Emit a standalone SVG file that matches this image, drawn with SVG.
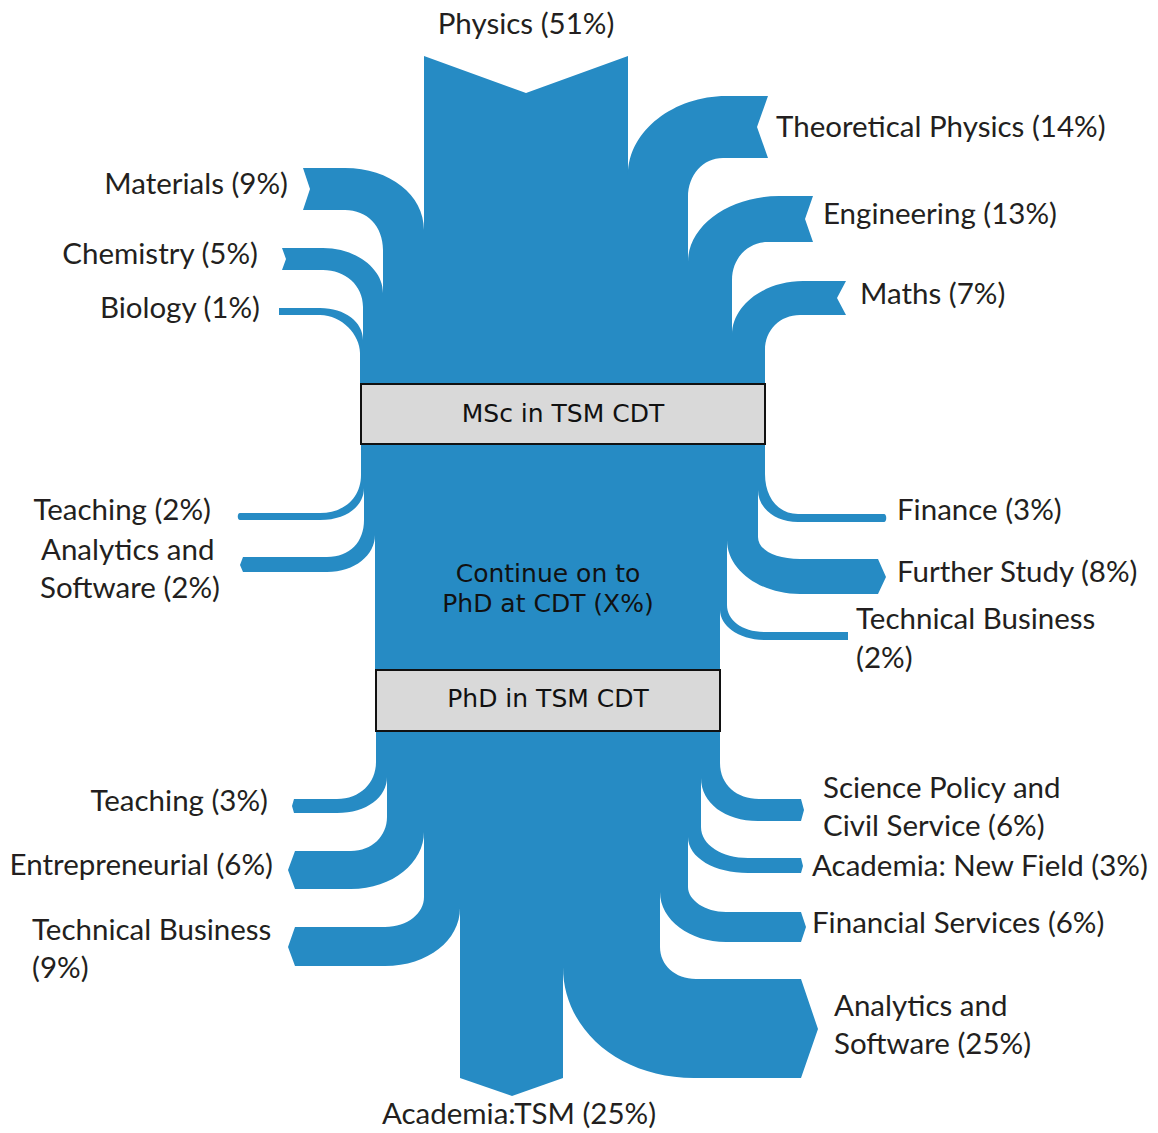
<svg xmlns="http://www.w3.org/2000/svg" width="1158" height="1133" viewBox="0 0 1158 1133">
<style>
.f{fill:#268bc4;stroke:none}
.lbl{font-family:Lato,"Open Sans","Liberation Sans",sans-serif;font-size:29.5px;fill:#231f20}
.box{fill:#d9d9d9;stroke:#111;stroke-width:2}
.bt{font-family:"DejaVu Sans",sans-serif;font-size:25px;fill:#111;text-anchor:middle}
</style>
<rect width="1158" height="1133" fill="#fff"/>
<g id="connectors">
<!-- top inputs -->
<path class="f" d="M424,56 L526,93 L628,56 L628,386 L424,386 Z"/>
<path class="f" d="M628,386 L628,175 C628,130 675,96 726,96 L768,96 L757,127 L768,158 L723,158 C703,158 688,175 688,197 L688,386 Z"/>
<path class="f" d="M688,386 L688,262 C688,225 730,196 779,196 L813,196 L805,219 L813,242 L768,242 C748,242 732,258 732,280 L732,386 Z"/>
<path class="f" d="M732,386 L732,335 C732,305 765,281 803,281 L846,281 L837,298 L846,315 L800,315 C780,315 765,330 765,350 L765,386 Z"/>
<path class="f" d="M424,386 L424,230 C424,195 390,168 345,168 L303,168 L310,189 L303,210 L345,210 C367,210 383,226 383,250 L383,386 Z"/>
<path class="f" d="M383,386 L383,293 C383,268 355,248 323,248 L282,248 L286,259 L282,270 L323,270 C345,270 363,285 363,307 L363,386 Z"/>
<path class="f" d="M363,386 L363,340 C363,322 345,308 320,308 L279,308 L279,315 L320,315 C342,315 360,335 360,353 L360,386 Z"/>
<!-- middle -->
<rect class="f" x="375" y="440" width="345" height="235"/>
<path class="f" d="M361,440 L361,475 C361,497 345,513 320,513 L240,513 C237,513 237,520 240,520 L320,520 C348,520 364,505 364,488 L364,440 Z"/>
<path class="f" d="M364,440 L364,520 C364,542 350,557 327,557 L243,557 L240,565 L243,572 L327,572 C355,572 375,555 375,535 L375,440 Z"/>
<path class="f" d="M765,440 L765,474 C765,497 778,514 798,514 L884,514 C887,514 887,522 884,522 L798,522 C775,522 758,508 758,490 L758,440 Z"/>
<path class="f" d="M758,440 L758,537 C758,550 775,559 800,559 L878,559 L886,577 L878,594 L800,594 C760,594 727,570 727,540 L727,440 Z"/>
<path class="f" d="M727,440 L727,605 C727,620 742,632 765,632 L848,632 L848,640 L765,640 C738,640 720,625 720,610 L720,440 Z"/>
<!-- bottom outputs -->
<path class="f" d="M376,728 L376,762 C376,783 360,799 337,799 L294,799 L292,806 L294,813 L337,813 C367,813 387,797 387,777 L387,728 Z"/>
<path class="f" d="M387,728 L387,817 C387,836 372,851 351,851 L295,851 L288,870 L295,889 L351,889 C393,889 424,862 424,832 L424,728 Z"/>
<path class="f" d="M424,728 L424,897 C424,913 408,927 385,927 L295,927 L288,947 L295,966 L385,966 C428,966 460,940 460,908 L460,728 Z"/>
<path class="f" d="M460,728 L460,1078 L512,1096 L563,1078 L563,728 Z"/>
<path class="f" d="M563,728 L563,967 C563,1030 620,1078 694,1078 L801,1078 L818,1029 L801,979 L696,979 C675,979 660,965 660,947 L660,728 Z"/>
<path class="f" d="M660,728 L660,892 C660,920 690,942 726,942 L801,942 L806,927 L801,912 L726,912 C705,912 688,900 688,887 L688,728 Z"/>
<path class="f" d="M688,728 L688,837 C688,858 715,873 748,873 L801,873 L803,866 L801,858 L748,858 C722,858 701,845 701,827 L701,728 Z"/>
<path class="f" d="M701,728 L701,778 C701,803 725,821 758,821 L801,821 L804,810 L801,799 L759,799 C737,799 720,785 720,763 L720,728 Z"/>
</g>
<g id="msc">
<rect class="box" x="361" y="384" width="404" height="60"/>
<text class="bt" x="563" y="422">MSc in TSM CDT</text>
</g>
<g id="continue">
<text class="bt" x="548" y="582">Continue on to</text>
<text class="bt" x="548" y="612">PhD at CDT (X%)</text>
</g>
<g id="phd">
<rect class="box" x="376" y="670" width="344" height="61"/>
<text class="bt" x="548" y="707">PhD in TSM CDT</text>
</g>
<g id="labels" class="lbl">
<text x="526" y="34" text-anchor="middle">Physics (51%)</text>
<text x="776" y="137">Theoretical Physics (14%)</text>
<text x="823" y="224">Engineering (13%)</text>
<text x="860" y="304">Maths (7%)</text>
<text x="288" y="194" text-anchor="end">Materials (9%)</text>
<text x="258" y="264" text-anchor="end">Chemistry (5%)</text>
<text x="260" y="318" text-anchor="end">Biology (1%)</text>
<text x="211" y="520" text-anchor="end">Teaching (2%)</text>
<text x="41" y="560">Analytics and</text>
<text x="40" y="598">Software (2%)</text>
<text x="897" y="520">Finance (3%)</text>
<text x="897" y="582">Further Study (8%)</text>
<text x="856" y="629">Technical Business</text>
<text x="856" y="668">(2%)</text>
<text x="268" y="811" text-anchor="end">Teaching (3%)</text>
<text x="273" y="875" text-anchor="end">Entrepreneurial (6%)</text>
<text x="32" y="940">Technical Business</text>
<text x="32" y="978">(9%)</text>
<text x="823" y="798">Science Policy and</text>
<text x="823" y="836">Civil Service (6%)</text>
<text x="812" y="876">Academia: New Field (3%)</text>
<text x="812" y="933">Financial Services (6%)</text>
<text x="834" y="1016">Analytics and</text>
<text x="834" y="1054">Software (25%)</text>
<text x="519" y="1124" text-anchor="middle">Academia:TSM (25%)</text>
</g>
</svg>
